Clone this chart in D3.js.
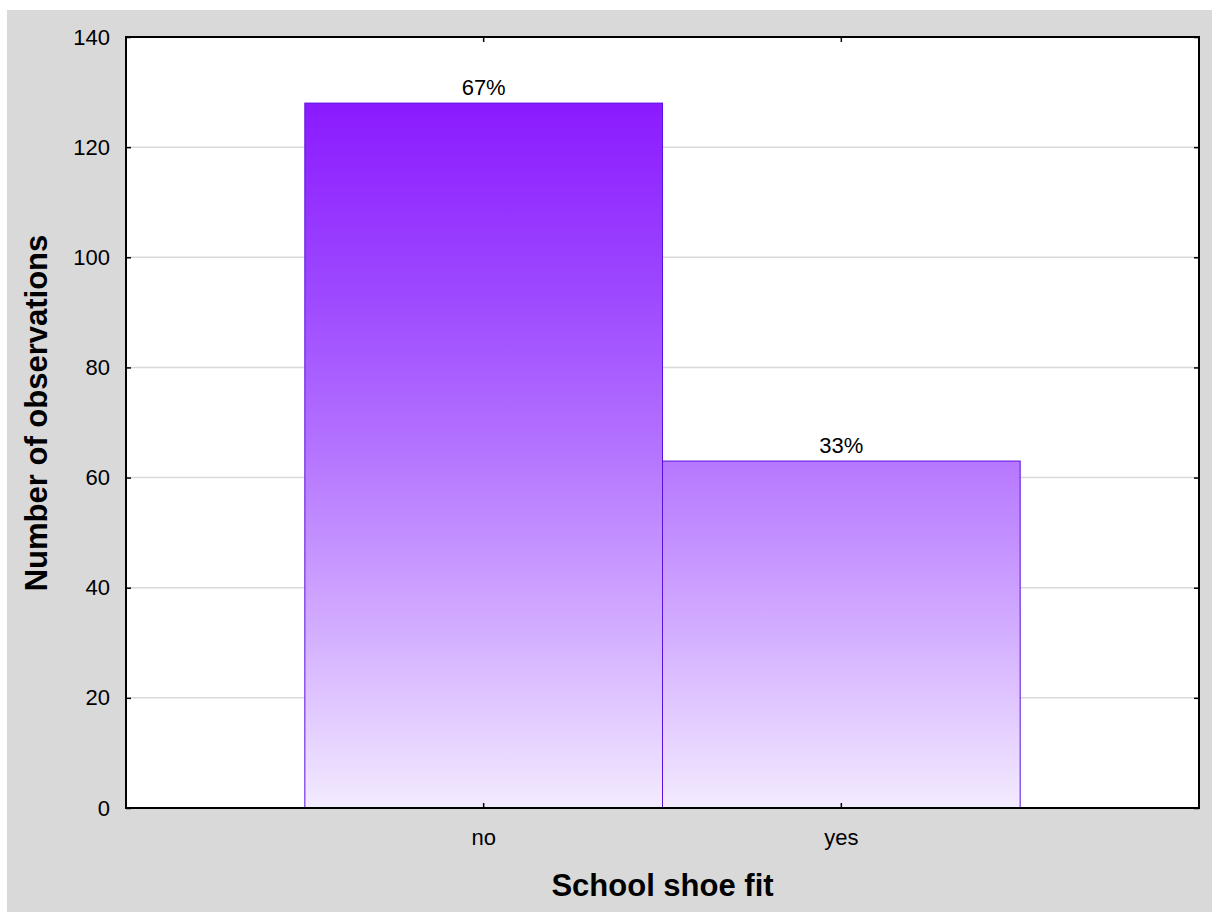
<!DOCTYPE html>
<html>
<head>
<meta charset="utf-8">
<script src="https://cdn.jsdelivr.net/npm/d3@7"></script>
<style>
html,body{margin:0;padding:0;background:#fff;}
text{font-family:"Liberation Sans",Arial,sans-serif;}
</style>
</head>
<body>
<svg id="chart" width="1212" height="912"></svg>
<script>
const categories = ["no", "yes"];
const counts = [128, 63];
const percentLabels = ["67%", "33%"];
const yTicks = [0, 20, 40, 60, 80, 100, 120, 140];
const xTitle = "School shoe fit";
const yTitle = "Number of observations";

const svg = d3.select("#chart");
const W = 1212, H = 912;
const plot = {left: 126, top: 37, right: 1199, bottom: 808};
const FS = 22;

svg.append("rect").attr("x", 7).attr("y", 10).attr("width", W - 7).attr("height", H - 10).attr("fill", "#d9d9d9");
svg.append("rect").attr("x", plot.left).attr("y", plot.top)
  .attr("width", plot.right - plot.left).attr("height", plot.bottom - plot.top).attr("fill", "#fff");

const x = d3.scaleBand().domain(categories).range([plot.left, plot.right]).paddingInner(0).paddingOuter(0.5);
const y = d3.scaleLinear().domain([0, 140]).range([plot.bottom, plot.top]);

// gradient
const defs = svg.append("defs");
const grad = defs.append("linearGradient").attr("id", "barGrad")
  .attr("gradientUnits", "userSpaceOnUse")
  .attr("x1", 0).attr("x2", 0).attr("y1", y(128)).attr("y2", y(0));
[[0, "#8b1aff"], [0.28, "#9e4aff"], [0.5, "#b575ff"], [0.75, "#d3aeff"], [1, "#f3ebff"]]
  .forEach(([o, c]) => grad.append("stop").attr("offset", o).attr("stop-color", c));

// gridlines
svg.append("g").selectAll("line").data(yTicks.filter(t => t > 0 && t < 140)).join("line")
  .attr("x1", plot.left).attr("x2", plot.right)
  .attr("y1", d => y(d)).attr("y2", d => y(d))
  .attr("stroke", "#d9d9d9").attr("stroke-width", 1.5);

// bars
svg.append("g").selectAll("rect").data(categories).join("rect")
  .attr("x", d => x(d)).attr("width", x.bandwidth())
  .attr("y", (d, i) => y(counts[i])).attr("height", (d, i) => y(0) - y(counts[i]))
  .attr("fill", "url(#barGrad)").attr("stroke", "#5a10e0").attr("stroke-width", 1);

// bar labels
svg.append("g").selectAll("text").data(categories).join("text")
  .attr("x", d => x(d) + x.bandwidth() / 2)
  .attr("y", (d, i) => y(counts[i]) - 8)
  .attr("text-anchor", "middle").attr("font-size", FS).attr("fill", "#000")
  .text((d, i) => percentLabels[i]);

// axes
const tickLen = 5;
const gL = svg.append("g").attr("transform", `translate(${plot.left},0)`)
  .call(d3.axisLeft(y).tickValues(yTicks).tickSize(-tickLen).tickPadding(16));
const gR = svg.append("g").attr("transform", `translate(${plot.right},0)`)
  .call(d3.axisRight(y).tickValues(yTicks).tickSize(-tickLen).tickFormat(""));
const gB = svg.append("g").attr("transform", `translate(0,${plot.bottom})`)
  .call(d3.axisBottom(x).tickSize(-tickLen).tickPadding(21));
const gT = svg.append("g").attr("transform", `translate(0,${plot.top})`)
  .call(d3.axisTop(x).tickSize(-tickLen).tickFormat(""));
[gL, gR, gB, gT].forEach(g => {
  g.select(".domain").remove();
  g.selectAll(".tick line").attr("stroke", "#000").attr("stroke-width", 1.5);
  g.selectAll(".tick text").attr("font-size", FS).attr("fill", "#000")
    .attr("font-family", '"Liberation Sans",Arial,sans-serif');
});

// frame
svg.append("rect").attr("x", plot.left).attr("y", plot.top)
  .attr("width", plot.right - plot.left).attr("height", plot.bottom - plot.top)
  .attr("fill", "none").attr("stroke", "#000").attr("stroke-width", 2);

// titles
svg.append("text").attr("x", (plot.left + plot.right) / 2).attr("y", 896)
  .attr("text-anchor", "middle").attr("font-size", 31).attr("font-weight", "bold").text(xTitle);
svg.append("text").attr("transform", `translate(47,413) rotate(-90)`)
  .attr("text-anchor", "middle").attr("font-size", 31).attr("font-weight", "bold").text(yTitle);
</script>
</body>
</html>
